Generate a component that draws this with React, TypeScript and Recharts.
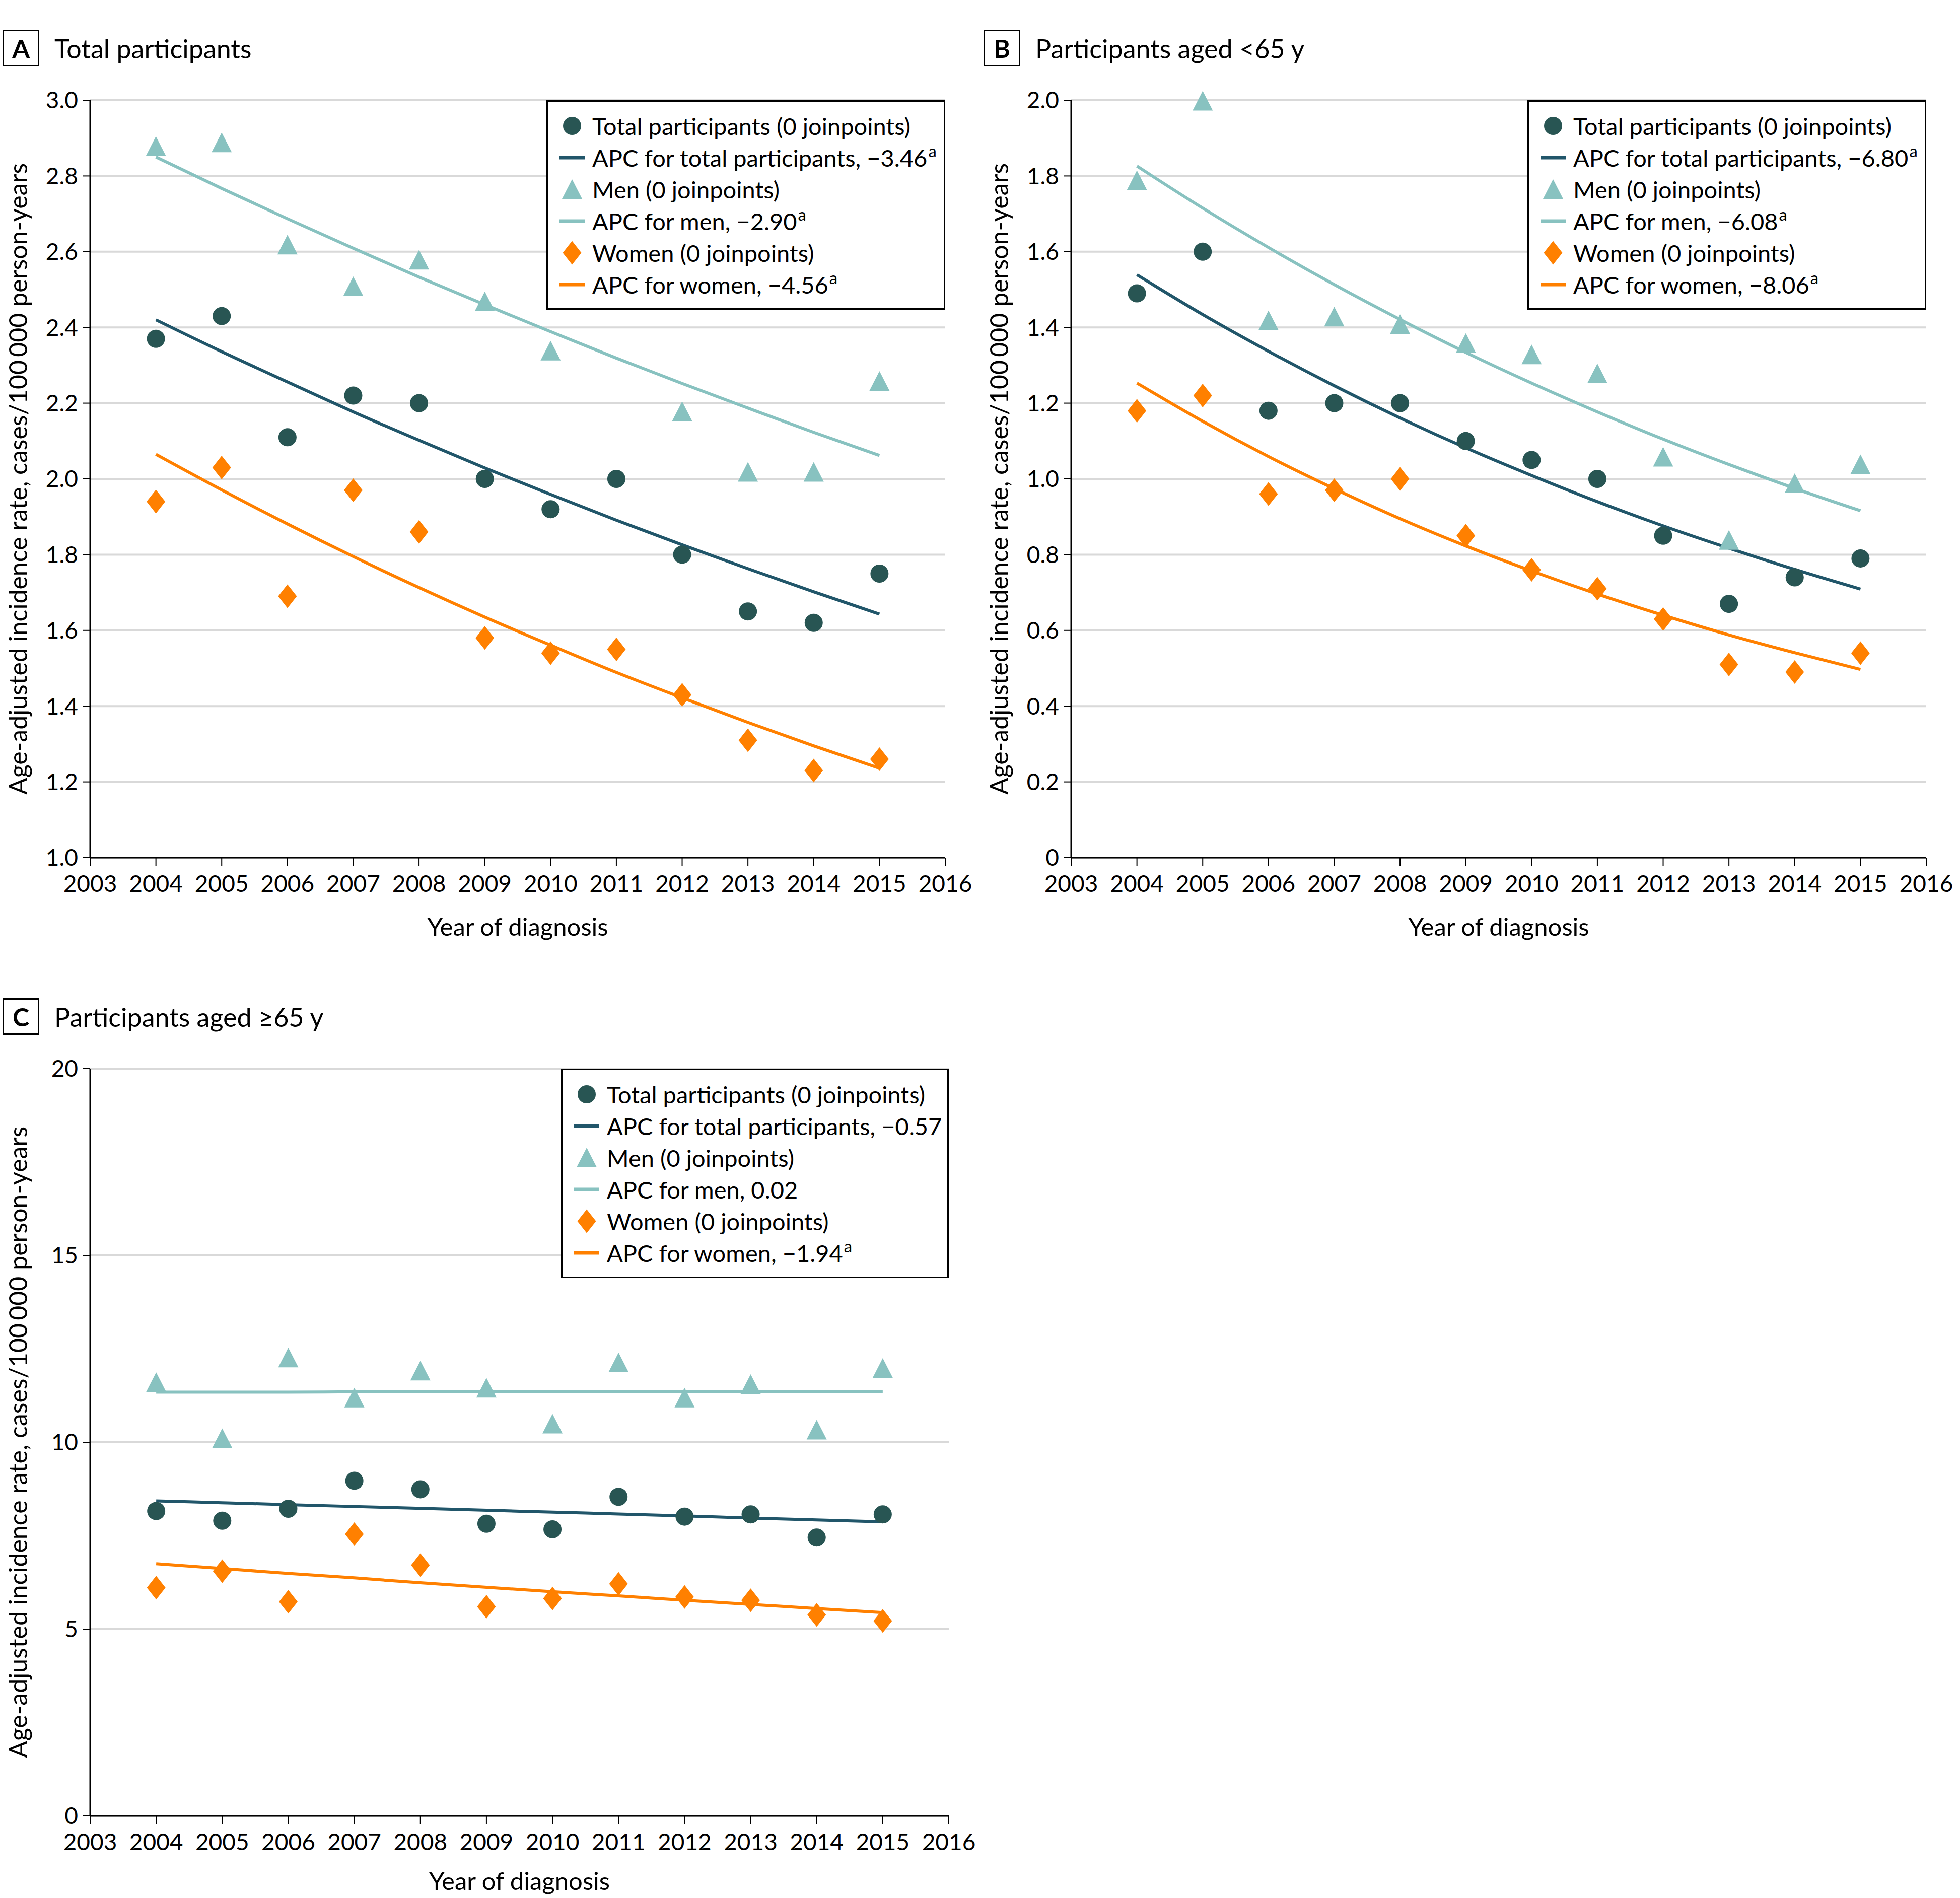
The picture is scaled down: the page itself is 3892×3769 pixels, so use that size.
import { CartesianGrid, ComposedChart, Label, Line, Scatter, XAxis, YAxis } from "recharts";

const FONT = "Lato, 'Noto Sans', sans-serif";
const TOTAL_DOT = "#285553";
const TOTAL_LINE = "#21566a";
const MEN = "#88c2c0";
const WOMEN = "#ff8000";

const years = [2004, 2005, 2006, 2007, 2008, 2009, 2010, 2011, 2012, 2013, 2014, 2015];
const xTicks = [2003, 2004, 2005, 2006, 2007, 2008, 2009, 2010, 2011, 2012, 2013, 2014, 2015, 2016];

// A: total participants
const totalA = [2.37, 2.43, 2.11, 2.22, 2.2, 2.0, 1.92, 2.0, 1.8, 1.65, 1.62, 1.75];
const menA = [2.87, 2.88, 2.61, 2.5, 2.57, 2.46, 2.33, null, 2.17, 2.01, 2.01, 2.25];
const womenA = [1.94, 2.03, 1.69, 1.97, 1.86, 1.58, 1.54, 1.55, 1.43, 1.31, 1.23, 1.26];
const totalFitA = [2.42, 2.336, 2.256, 2.177, 2.102, 2.029, 1.959, 1.891, 1.826, 1.763, 1.702, 1.643];
const menFitA = [2.85, 2.767, 2.687, 2.609, 2.533, 2.46, 2.389, 2.319, 2.252, 2.187, 2.123, 2.062];
const womenFitA = [2.065, 1.971, 1.881, 1.795, 1.713, 1.635, 1.561, 1.489, 1.422, 1.357, 1.295, 1.236];
const yTicksA = [1.0, 1.2, 1.4, 1.6, 1.8, 2.0, 2.2, 2.4, 2.6, 2.8, 3.0];
const legendA = ["−3.46", "−2.90", "−4.56"];

// B: aged <65 y
const totalB = [1.49, 1.6, 1.18, 1.2, 1.2, 1.1, 1.05, 1.0, 0.85, 0.67, 0.74, 0.79];
const menB = [1.78, 1.99, 1.41, 1.42, 1.4, 1.35, 1.32, 1.27, 1.05, 0.83, 0.98, 1.03];
const womenB = [1.18, 1.22, 0.96, 0.97, 1.0, 0.85, 0.76, 0.71, 0.63, 0.51, 0.49, 0.54];
const totalFitB = [1.539, 1.434, 1.337, 1.246, 1.161, 1.082, 1.009, 0.94, 0.876, 0.817, 0.761, 0.709];
const menFitB = [1.826, 1.715, 1.611, 1.513, 1.421, 1.334, 1.253, 1.177, 1.105, 1.038, 0.975, 0.916];
const womenFitB = [1.253, 1.152, 1.059, 0.974, 0.895, 0.823, 0.757, 0.696, 0.64, 0.588, 0.541, 0.497];
const yTicksB = [0, 0.2, 0.4, 0.6, 0.8, 1.0, 1.2, 1.4, 1.6, 1.8, 2.0];
const legendB = ["−6.80", "−6.08", "−8.06"];

// C: aged >=65 y
const totalC = [8.16, 7.9, 8.22, 8.97, 8.74, 7.82, 7.67, 8.54, 8.01, 8.07, 7.45, 8.07];
const menC = [11.52, 10.02, 12.18, 11.11, 11.83, 11.37, 10.41, 12.05, 11.11, 11.47, 10.25, 11.9];
const womenC = [6.11, 6.55, 5.73, 7.54, 6.71, 5.6, 5.82, 6.21, 5.86, 5.77, 5.38, 5.22];
const totalFitC = [8.43, 8.38, 8.33, 8.28, 8.23, 8.18, 8.13, 8.08, 8.03, 7.97, 7.92, 7.87];
const menFitC = [11.34, 11.34, 11.34, 11.35, 11.35, 11.35, 11.35, 11.35, 11.36, 11.36, 11.36, 11.36];
const womenFitC = [6.75, 6.62, 6.49, 6.37, 6.24, 6.12, 6.0, 5.89, 5.77, 5.66, 5.55, 5.44];
const yTicksC = [0, 5, 10, 15, 20];
const legendC = ["−0.57", "0.02", "−1.94"];
const sigC = [false, false, true];

const Y_LABEL = "Age-adjusted incidence rate, cases/100\u2009000 person-years";

const rows = (vals: (number | null)[]) =>
  years.map((year, i) => ({ year, v: vals[i] })).filter((r) => r.v != null);

const DotShape = (p: any) => <circle cx={p.cx} cy={p.cy} r={18} fill={TOTAL_DOT} />;
const TriShape = (p: any) => (
  <path d={`M${p.cx},${p.cy - 26}L${p.cx + 20},${p.cy + 13}L${p.cx - 20},${p.cy + 13}Z`} fill={MEN} />
);
const DiaShape = (p: any) => (
  <path
    d={`M${p.cx},${p.cy - 23.5}L${p.cx + 18.5},${p.cy}L${p.cx},${p.cy + 23.5}L${p.cx - 18.5},${p.cy}Z`}
    fill={WOMEN}
  />
);

function LegendSymbol({ kind, color }: { kind: string; color: string }) {
  return (
    <svg width={60} height={50} style={{ flex: "none" }}>
      {kind === "dot" && <circle cx={30} cy={25} r={18} fill={color} />}
      {kind === "tri" && <path d="M30,-1L50,38L10,38Z" fill={color} transform="translate(0,6)" />}
      {kind === "dia" && <path d="M30,1.5L48.5,25L30,48.5L11.5,25Z" fill={color} />}
      {kind === "line" && <rect x={5} y={21.5} width={50} height={7} fill={color} />}
    </svg>
  );
}

function Legend({ apc, sig, left, top, width }: { apc: string[]; sig: boolean[]; left: number; top: number; width: number }) {
  const items = [
    { kind: "dot", color: TOTAL_DOT, text: "Total participants (0 joinpoints)" },
    { kind: "line", color: TOTAL_LINE, text: "APC for total participants, " + apc[0], sup: sig[0] },
    { kind: "tri", color: MEN, text: "Men (0 joinpoints)" },
    { kind: "line", color: MEN, text: "APC for men, " + apc[1], sup: sig[1] },
    { kind: "dia", color: WOMEN, text: "Women (0 joinpoints)" },
    { kind: "line", color: WOMEN, text: "APC for women, " + apc[2], sup: sig[2] },
  ];
  return (
    <div
      style={{
        position: "absolute",
        left,
        top,
        width,
        height: 416,
        boxSizing: "border-box",
        border: "3px solid #000",
        background: "#fff",
        paddingTop: 16,
        paddingLeft: 18,
      }}
    >
      {items.map((it) => (
        <div key={it.text} style={{ display: "flex", alignItems: "center", height: 63 }}>
          <LegendSymbol kind={it.kind} color={it.color} />
          <span style={{ marginLeft: 10, fontSize: 47, fontFamily: FONT, color: "#000", whiteSpace: "nowrap" }}>
            {it.text}
            {it.sup && (
              <span style={{ fontSize: "0.7em", position: "relative", top: "-0.55em", marginLeft: 2 }}>a</span>
            )}
          </span>
        </div>
      ))}
    </div>
  );
}

type PanelProps = {
  letter: string;
  title: string;
  left: number;
  top: number;
  plotW: number;
  plotH: number;
  yDomain: [number, number];
  yTicks: number[];
  digits: number;
  total: (number | null)[];
  men: (number | null)[];
  women: (number | null)[];
  totalFit: number[];
  menFit: number[];
  womenFit: number[];
  apc: string[];
  sig: boolean[];
  legendW: number;
  xLabelGap: number;
  xAxisH: number;
};

function Panel(p: PanelProps) {
  const yAxisW = 179;
  const mTop = 49;
  const mRight = 60;
  const width = yAxisW + p.plotW + mRight;
  const height = mTop + p.plotH + p.xAxisH;
  const axisLine = { stroke: "#000", strokeWidth: 3 };
  const tickLine = { stroke: "#000", strokeWidth: 2 };
  const tick = { fill: "#000", fontSize: 46, fontFamily: FONT };
  return (
    <div style={{ position: "absolute", left: p.left, top: p.top }}>
      <div
        style={{
          position: "absolute",
          left: 5,
          top: 59,
          width: 73,
          height: 73,
          boxSizing: "border-box",
          border: "3px solid #000",
          display: "flex",
          alignItems: "center",
          justifyContent: "center",
          fontFamily: FONT,
          fontWeight: 700,
          fontSize: 50,
        }}
      >
        {p.letter}
      </div>
      <div
        style={{
          position: "absolute",
          left: 108,
          top: 59,
          height: 73,
          display: "flex",
          alignItems: "center",
          fontFamily: FONT,
          fontSize: 52,
          whiteSpace: "nowrap",
        }}
      >
        {p.title}
      </div>
      <div style={{ position: "absolute", left: 0, top: 150 }}>
        <ComposedChart width={width} height={height} margin={{ top: mTop, right: mRight, bottom: 0, left: 0 }}>
          <CartesianGrid vertical={false} stroke="#d9d9d9" strokeWidth={4} />
          <XAxis
            type="number"
            dataKey="year"
            domain={[2003, 2016]}
            ticks={xTicks}
            interval={0}
            height={p.xAxisH}
            axisLine={axisLine}
            tickLine={tickLine}
            tickSize={16}
            tickMargin={19}
            tick={tick}
          >
            <Label
              content={(lp: any) => (
                <text
                  x={lp.viewBox.x + lp.viewBox.width / 2}
                  y={lp.viewBox.y + p.xLabelGap}
                  textAnchor="middle"
                  dominantBaseline="central"
                  fontSize={49}
                  fontFamily={FONT}
                  fill="#000"
                >
                  Year of diagnosis
                </text>
              )}
            />
          </XAxis>
          <YAxis
            type="number"
            domain={p.yDomain}
            ticks={p.yTicks}
            interval={0}
            width={yAxisW}
            axisLine={axisLine}
            tickLine={tickLine}
            tickSize={14}
            tickMargin={10}
            tick={tick}
            tickFormatter={(v: number) => (v === 0 ? "0" : v.toFixed(p.digits))}
          >
            <Label
              content={(lp: any) => {
                const cx = lp.viewBox.x + 35;
                const cy = lp.viewBox.y + lp.viewBox.height / 2;
                return (
                  <text
                    x={cx}
                    y={cy}
                    transform={`rotate(-90, ${cx}, ${cy})`}
                    textAnchor="middle"
                    dominantBaseline="central"
                    fontSize={50}
                    fontFamily={FONT}
                    fill="#000"
                  >
                    {Y_LABEL}
                  </text>
                );
              }}
            />
          </YAxis>
          <Line data={rows(p.menFit)} dataKey="v" type="monotone" stroke={MEN} strokeWidth={6} dot={false} activeDot={false} isAnimationActive={false} />
          <Line data={rows(p.totalFit)} dataKey="v" type="monotone" stroke={TOTAL_LINE} strokeWidth={6} dot={false} activeDot={false} isAnimationActive={false} />
          <Line data={rows(p.womenFit)} dataKey="v" type="monotone" stroke={WOMEN} strokeWidth={6} dot={false} activeDot={false} isAnimationActive={false} />
          <Scatter data={rows(p.men)} dataKey="v" shape={TriShape} isAnimationActive={false} />
          <Scatter data={rows(p.total)} dataKey="v" shape={DotShape} isAnimationActive={false} />
          <Scatter data={rows(p.women)} dataKey="v" shape={DiaShape} isAnimationActive={false} />
        </ComposedChart>
      </div>
      <Legend apc={p.apc} sig={p.sig} left={yAxisW + p.plotW - p.legendW} top={199} width={p.legendW} />
    </div>
  );
}

export default function App() {
  return (
    <div
      style={{
        position: "absolute",
        left: 0,
        top: 0,
        width: 3892,
        height: 3769,
        overflow: "hidden",
        background: "#fff",
        color: "#000",
      }}
    >
      <Panel
        letter="A"
        title="Total participants"
        left={0}
        top={0}
        plotW={1698}
        plotH={1504}
        yDomain={[1, 3]}
        yTicks={yTicksA}
        digits={1}
        total={totalA}
        men={menA}
        women={womenA}
        totalFit={totalFitA}
        menFit={menFitA}
        womenFit={womenFitA}
        apc={legendA}
        sig={[true, true, true]}
        legendW={792}
        xLabelGap={136}
        xAxisH={185}
      />
      <Panel
        letter="B"
        title="Participants aged <65 y"
        left={1948}
        top={0}
        plotW={1698}
        plotH={1504}
        yDomain={[0, 2]}
        yTicks={yTicksB}
        digits={1}
        total={totalB}
        men={menB}
        women={womenB}
        totalFit={totalFitB}
        menFit={menFitB}
        womenFit={womenFitB}
        apc={legendB}
        sig={[true, true, true]}
        legendW={792}
        xLabelGap={136}
        xAxisH={185}
      />
      <Panel
        letter="C"
        title="Participants aged ≥65 y"
        left={0}
        top={1923}
        plotW={1705}
        plotH={1484}
        yDomain={[0, 20]}
        yTicks={yTicksC}
        digits={0}
        total={totalC}
        men={menC}
        women={womenC}
        totalFit={totalFitC}
        menFit={menFitC}
        womenFit={womenFitC}
        apc={legendC}
        sig={sigC}
        legendW={770}
        xLabelGap={128}
        xAxisH={162}
      />
    </div>
  );
}
